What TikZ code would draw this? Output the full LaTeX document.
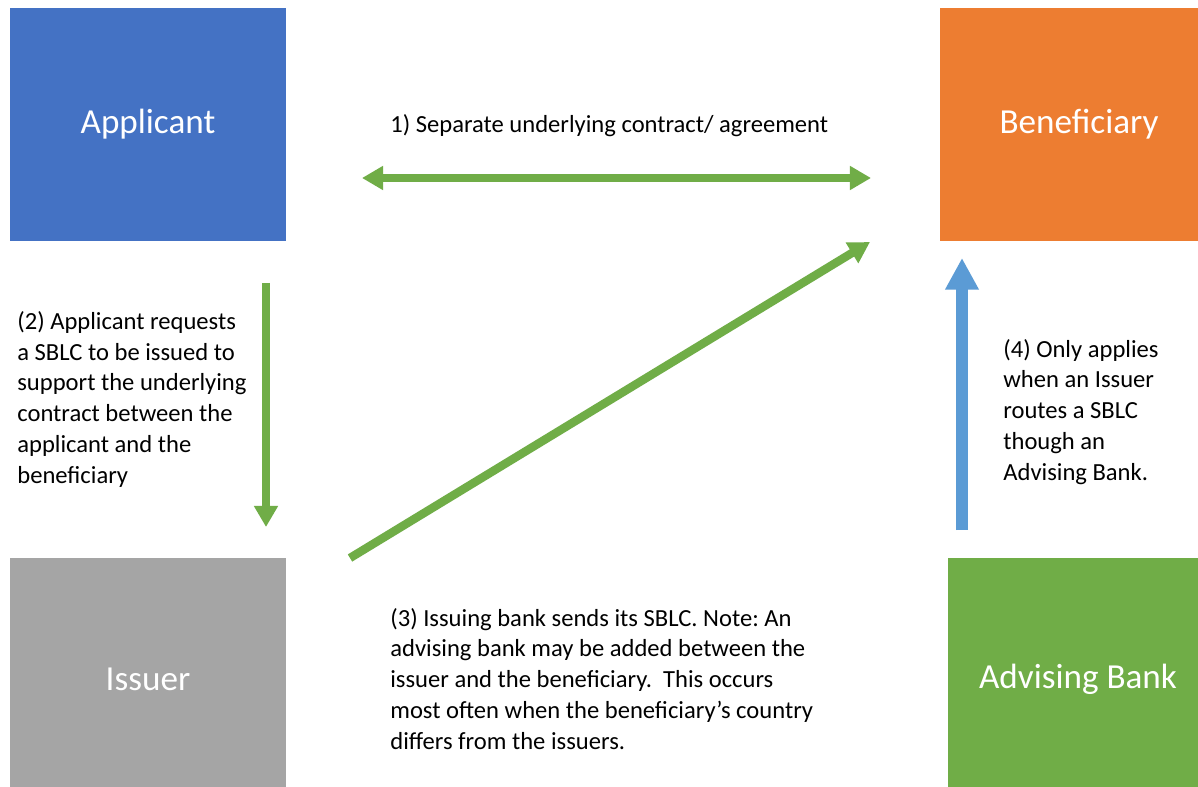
\documentclass[tikz,border=0pt]{standalone}
\usepackage{fontspec}
\setmainfont{Carlito}
\usetikzlibrary{arrows.meta}
\definecolor{appblue}{HTML}{4472C4}
\definecolor{benorange}{HTML}{ED7D31}
\definecolor{issgray}{HTML}{A5A5A5}
\definecolor{advgreen}{HTML}{70AD47}
\definecolor{routeblue}{HTML}{5B9BD5}
\frenchspacing

\begin{document}
\begin{tikzpicture}[x=0.02cm,y=-0.02cm,
    party/.style={rectangle, inner sep=0pt, text=white, font=\fontsize{20}{24}\selectfont},
    note/.style={anchor=base west, inner sep=0pt, align=left, font=\fontsize{14}{17.5}\selectfont},
    flow/.style={advgreen, line width=4.8pt, -{Triangle[width=13pt,length=12pt]}}]
    \clip (0,0) rectangle (1198,787);
    \fill[white] (0,0) rectangle (1198,787); % The page
    % The four parties
    \node[party, fill=appblue, minimum width=5.52cm, minimum height=4.66cm] (applicant) at (148,124.5) {Applicant};
    \node[party, fill=benorange, minimum width=5.56cm, minimum height=4.66cm] (beneficiary) at (1079,124.5) {Beneficiary};
    \node[party, fill=issgray, minimum width=5.52cm, minimum height=4.84cm] (issuer) at (148,679) {Issuer};
    \node[party, fill=advgreen, minimum width=5.2cm, minimum height=4.84cm] (advising) at (1078,679) {Advising Bank};
    % Ends of the arrows
    \coordinate (contractL) at (362,178);
    \coordinate (contractR) at (871,178);
    \coordinate (requestT) at (266,283);
    \coordinate (requestB) at (266,527);
    \coordinate (sendsS) at (350,558);
    \coordinate (sendsE) at (870,242);
    \coordinate (routeB) at (962,530);
    \coordinate (routeT) at (962,258);
    \draw[flow, {Triangle[width=13pt,length=12pt]}-{Triangle[width=13pt,length=12pt]}] (contractL) -- (contractR);
    \draw[flow] (requestT) -- (requestB);
    \draw[flow] (sendsS) -- (sendsE);
    \draw[routeblue, line width=6.3pt, -{Triangle[width=18pt,length=18pt]}] (routeB) -- (routeT);
    % The notes (placed by the baseline of their last line)
    \node[note] (contract) at (390,133) {1) Separate underlying contract/ agreement};
    \node[note] (request) at (17,483) {(2) Applicant requests\\a SBLC to be issued to\\support the underlying\\contract between the\\applicant and the\\beneficiary};
    \node[note] (sends) at (390,749) {(3) Issuing bank sends its SBLC. Note: An\\advising bank may be added between the\\issuer and the beneficiary.\ \ This occurs\\most often when the beneficiary’s country\\differs from the issuers.};
    \node[note] (route) at (1003,480) {(4) Only applies\\when an Issuer\\routes a SBLC\\though an\\Advising Bank.};
\end{tikzpicture}
\end{document}
